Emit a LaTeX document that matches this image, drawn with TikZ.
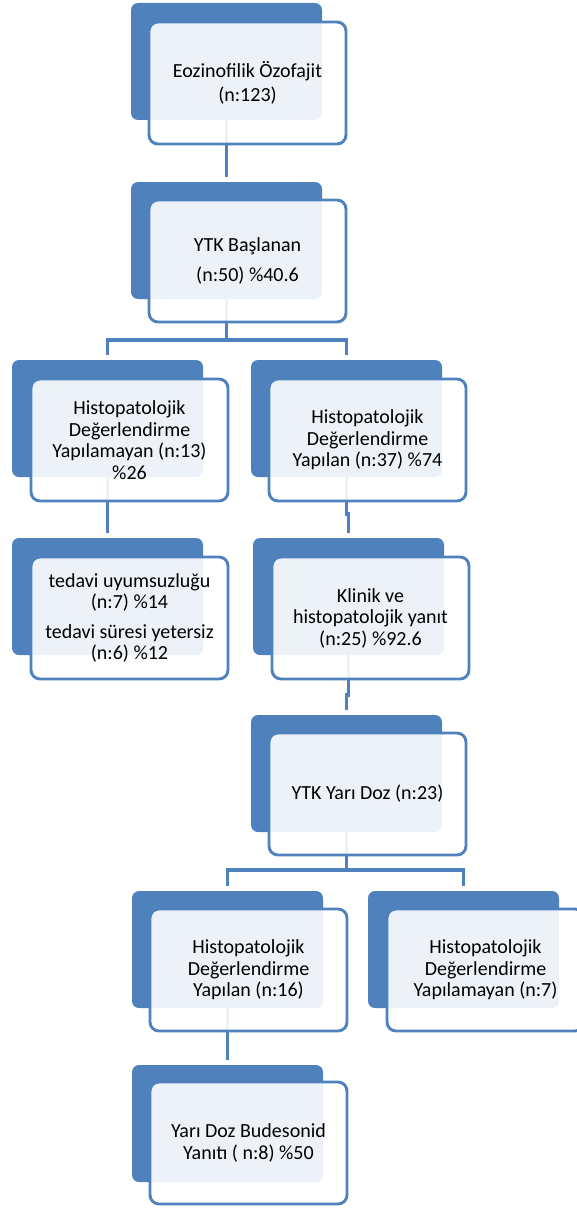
\documentclass[tikz,border=0pt]{standalone}
\usepackage{fontspec}
\setmainfont{Carlito}
\usetikzlibrary{calc}
\definecolor{acc}{HTML}{4F81BD}
\tikzset{
  back/.style={fill=acc, draw=none, rounded corners=7pt, minimum width=191pt, minimum height=117pt, anchor=north west, inner sep=0pt, outer sep=0pt},
  front/.style={draw=acc, line width=2.9pt, fill=white, fill opacity=0.9, text opacity=1, rounded corners=9pt, minimum width=197pt, minimum height=122pt, anchor=north west, align=center, inner sep=0pt, outer sep=0pt, font=\fontsize{20pt}{21.5pt}\selectfont, text=black},
  link/.style={draw=acc, line width=3.2pt},
  gap/.style={shorten >=5pt}
}
\begin{document}
\begin{tikzpicture}[x=1pt,y=-1pt]
\useasboundingbox (0,0) rectangle (576,1212);
% back boxes
\node[back] (b1) at (131,3) {};
\node[back] (b2) at (131,182) {};
\node[back] (b3l) at (12,360) {};
\node[back] (b3r) at (251,360) {};
\node[back] (b4l) at (12,538) {};
\node[back] (b4r) at (253,538) {};
\node[back] (b5) at (251,715) {};
\node[back] (b6l) at (132,891) {};
\node[back] (b6r) at (368,891) {};
\node[back] (b7) at (132,1065) {};
% connectors
\draw[link, gap] (b1.south) -- (b2.north);
\coordinate (j2) at ($(b2.south)+(0,41)$);
\draw[link] (b2.south) -- (j2);
\draw[link, gap] (j2) -| (b3l.north);
\draw[link, gap] (j2) -| (b3r.north);
\draw[link, gap] (b3l.south) -- (b4l.north);
\draw[link, gap] (b3r.south) -- ++(0,37) -| (b4r.north);
\draw[link, gap] (b4r.south) -- ++(0,40) -| (b5.north);
\coordinate (j5) at ($(b5.south)+(0,38)$);
\draw[link] (b5.south) -- (j5);
\draw[link, gap] (j5) -| (b6l.north);
\draw[link, gap] (j5) -| (b6r.north);
\draw[link, gap] (b6l.south) -- (b7.north);
% front boxes
\node[front] (f1) at (149,22) {Eozinofilik Özofajit\\[3pt](n:123)};
\node[front] (f2) at (149,200) {YTK Başlanan\\[8pt](n:50) \%40.6};
\node[front] (f3l) at (31,379) {Histopatolojik\\Değerlendirme\\Yapılamayan (n:13)\\\%26};
\node[front] (f3r) at (269,379) {Histopatolojik\\Değerlendirme\\Yapılan (n:37) \%74};
\node[front] (f4l) at (31,557) {tedavi uyumsuzluğu\\(n:7) \%14\\[8pt]tedavi süresi yetersiz\\(n:6) \%12};
\node[front] (f4r) at (272,557) {Klinik ve\\histopatolojik yanıt\\(n:25) \%92.6};
\node[front] (f5) at (269,733) {YTK Yarı Doz (n:23)};
\node[front] (f6l) at (150,909) {Histopatolojik\\Değerlendirme\\Yapılan (n:16)};
\node[front] (f6r) at (387,909) {Histopatolojik\\Değerlendirme\\Yapılamayan (n:7)};
\node[front] (f7) at (150,1082) {Yarı Doz Budesonid\\Yanıtı ( n:8) \%50};
\end{tikzpicture}
\end{document}
